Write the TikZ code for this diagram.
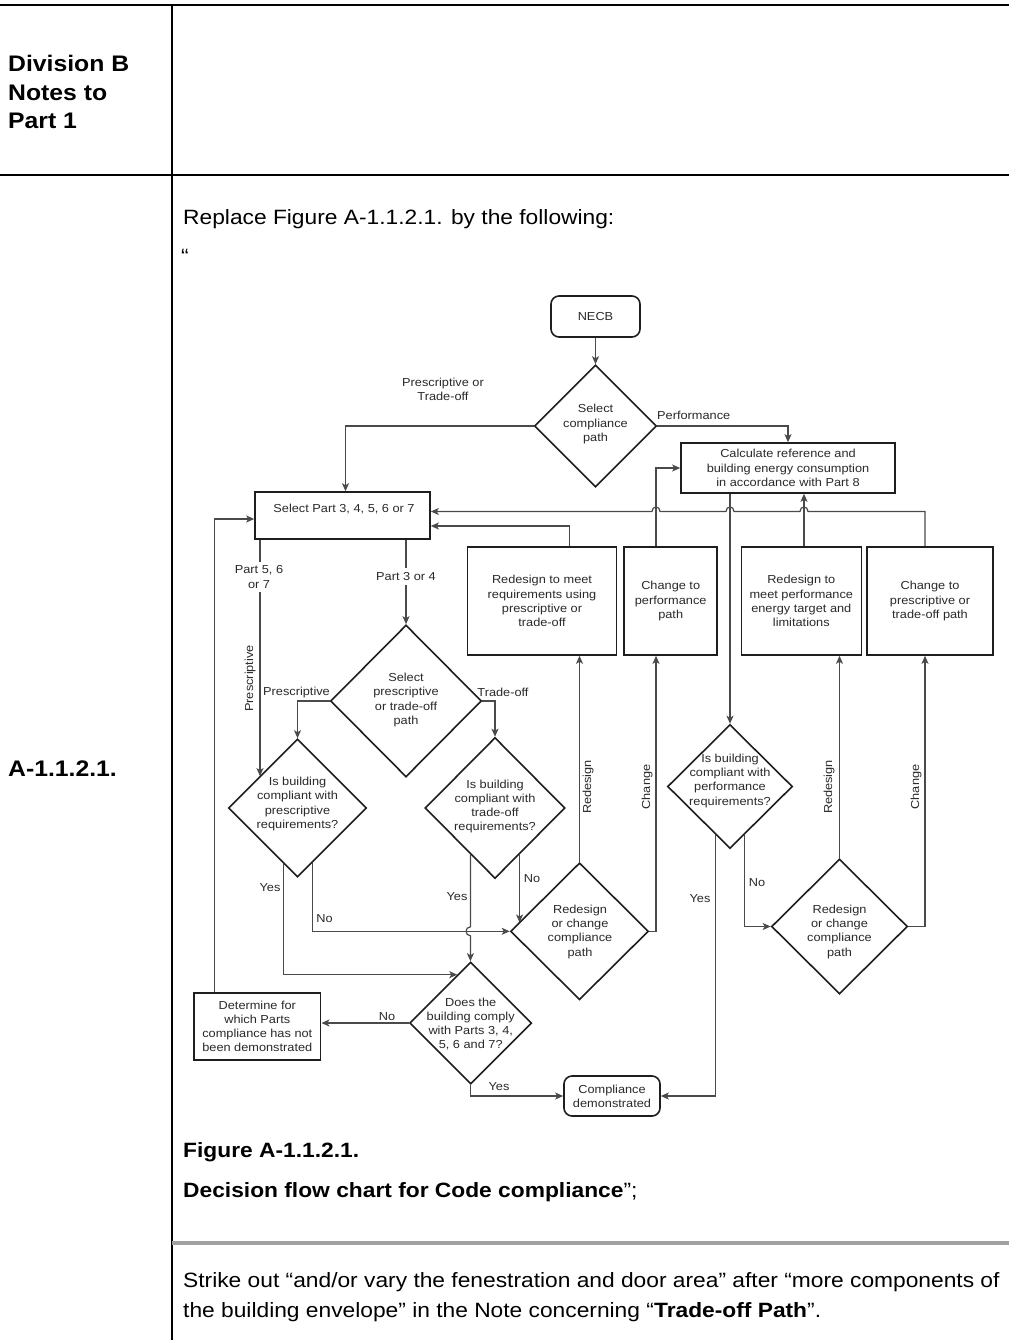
\documentclass[tikz,border=0pt]{standalone}
\usepackage{fontspec}
\setmainfont[FakeStretch=1.1]{Liberation Sans}
\usetikzlibrary{arrows.meta,shapes.geometric,calc,backgrounds}
\definecolor{ink}{HTML}{1E1E1E}
\definecolor{linec}{HTML}{4A4A4A}
\definecolor{txtc}{HTML}{2A2A2A}
\definecolor{sepc}{HTML}{A0A0A0}
\newcommand\fcFont{\fontsize{11.6}{14.2}\selectfont}
\newcommand\fmFont{\fontsize{20.7}{29}\selectfont}
\newcommand\fhFont{\fontsize{22.5}{28.5}\selectfont\bfseries}
\begin{document}
\begin{tikzpicture}[x=1pt,y=-1pt,
  box/.style={draw=ink,line width=1.6pt,fill=white,inner sep=0pt,align=center,font=\fcFont,text=txtc},
  rbox/.style={box,rounded corners=8pt},
  dia/.style={diamond,draw=ink,line width=1.6pt,fill=white,inner sep=0pt},
  dtxt/.style={font=\fcFont,text=txtc,align=center,inner sep=0pt},
  lbl/.style={font=\fcFont,text=txtc,inner sep=0pt,align=center},
  conn/.style={draw=linec,line width=1.2pt},
  arr/.style={conn,-{Stealth[length=8pt,width=7pt,inset=2pt]}},
  ptxt/.style={font=\fmFont,inner sep=0pt,anchor=base west},
  htxt/.style={font=\fhFont,inner sep=0pt,anchor=base west}]
\useasboundingbox (0,0) rectangle (1009,1340);
\begin{pgfonlayer}{background}
\fill[white] (0,0) rectangle (1009,1340);
\end{pgfonlayer}

% page frame
\draw[line width=2.6pt] (0,5) -- (1009,5);
\draw[line width=2.2pt] (0,175) -- (1009,175);
\draw[line width=2pt] (172,5) -- (172,1340);
\draw[sepc,line width=4pt] (172,1243) -- (1009,1243);

% page texts
\node[htxt] (hDiv) at (8,72) {Division B};
\node[htxt] (hNotes) at (8,100.5) {Notes to};
\node[htxt] (hPart) at (8,129) {Part 1};
\node[ptxt] (tRepl) at (183,225) {Replace Figure A-1.1.2.1. by the following:};
\node[ptxt] (tQ) at (181,263) {“};
\node[htxt] (hA) at (8,776) {A-1.1.2.1.};
\node[ptxt,font=\fmFont\bfseries] (tFig) at (183,1157) {Figure A-1.1.2.1.};
\node[ptxt] (tDec) at (183,1197) {\textbf{Decision flow chart for Code compliance}”;};
\node[ptxt] (tS1) at (183,1287) {Strike out “and/or vary the fenestration and door area” after “more components of};
\node[ptxt] (tS2) at (183,1317) {the building envelope” in the Note concerning “\textbf{Trade-off Path}”.};

% flowchart nodes
\node[rbox,minimum width=89pt,minimum height=41pt] (necb) at (595.5,316.5) {NECB};
\node[dia,minimum width=122pt,minimum height=122pt] (sel) at (595.5,426) {};
\node[dtxt] (selT) at (595.5,424) {Select\\compliance\\path};
\node[box,minimum width=214pt,minimum height=50pt] (calc) at (788,468) {Calculate reference and\\building energy consumption\\in accordance with Part 8};
\node[box,minimum width=175pt,minimum height=47pt] (part) at (342.5,515.5) {};
\node[lbl] (partT) at (344,509) {Select Part 3, 4, 5, 6 or 7};
\node[box,minimum width=149pt,minimum height=108pt] (boxA) at (542,601) {Redesign to meet\\requirements using\\prescriptive or\\trade-off};
\node[box,minimum width=93pt,minimum height=108pt] (boxB) at (670.7,601) {Change to\\performance\\path};
\node[box,minimum width=120pt,minimum height=108pt] (boxC) at (801.3,601) {Redesign to\\meet performance\\energy target and\\limitations};
\node[box,minimum width=126pt,minimum height=108pt] (boxD) at (930,601) {Change to\\prescriptive or\\trade-off path};
\node[dia,minimum width=151pt,minimum height=152pt] (sp) at (406,701) {};
\node[dtxt] (spT) at (406,700) {Select\\prescriptive\\or trade-off\\path};
\node[dia,minimum width=138pt,minimum height=138pt] (d1) at (297.5,808) {};
\node[dtxt] (d1T) at (297.5,804) {Is building\\compliant with\\prescriptive\\requirements?};
\node[dia,minimum width=140pt,minimum height=141pt] (d2) at (495,808) {};
\node[dtxt] (d2T) at (495,806.5) {Is building\\compliant with\\trade-off\\requirements?};
\node[dia,minimum width=138pt,minimum height=137pt] (rc1) at (579.5,931.3) {};
\node[dtxt] (rc1T) at (580,931.7) {Redesign\\or change\\compliance\\path};
\node[dia,minimum width=122pt,minimum height=122pt] (does) at (470.7,1023) {};
\node[dtxt] (doesT) at (470.7,1024) {Does the\\building comply\\with Parts 3, 4,\\5, 6 and 7?};
\node[box,minimum width=126.7pt,minimum height=67.3pt] (det) at (257.3,1026.4) {Determine for\\which Parts\\compliance has not\\been demonstrated};
\node[rbox,minimum width=96pt,minimum height=40pt] (comp) at (612,1096) {Compliance\\demonstrated};
\node[dia,minimum width=125pt,minimum height=124pt] (perf) at (730,786.5) {};
\node[dtxt] (perfT) at (730,780.7) {Is building\\compliant with\\performance\\requirements?};
\node[dia,minimum width=136pt,minimum height=135pt] (rc2) at (839.5,926.5) {};
\node[dtxt] (rc2T) at (839.5,931.7) {Redesign\\or change\\compliance\\path};

% connector end points
\coordinate (dTop) at (925,0 |- boxD.north);
\coordinate (aTop) at (569.3,0 |- boxA.north);
\coordinate (bTop) at (656,0 |- boxB.north);
\coordinate (bBot) at (656,0 |- boxB.south);
\coordinate (cBot) at (730,0 |- calc.south);
\coordinate (cTop) at (804,0 |- boxC.north);
\coordinate (dBot) at (925,0 |- boxD.south);
\coordinate (p56) at (260,0 |- part.south);
\coordinate (p34) at (sp.north |- part.south);
\coordinate (detTop) at (214.3,0 |- det.north);
\coordinate (d1in) at ($(d1.west)!0.457!(d1.north)$);
\coordinate (d1y) at ($(d1.south)!0.196!(d1.west)$);
\coordinate (d1n) at ($(d1.south)!0.21!(d1.east)$);
\coordinate (d2y) at ($(d2.south)!0.347!(d2.west)$);
\coordinate (d2n) at ($(d2.south)!0.347!(d2.east)$);
\coordinate (dsin) at ($(does.north)!0.218!(does.west)$);
\coordinate (rc1in) at ($(rc1.west)!0.1275!(rc1.north)$);
\coordinate (pfy) at ($(perf.south)!0.229!(perf.west)$);
\coordinate (pfn) at ($(perf.south)!0.235!(perf.east)$);

\begin{pgfonlayer}{background}
\draw[arr] (necb.south) -- (sel.north);
\draw[arr] (sel.west) -| ([xshift=3pt]part.north);
\draw[arr] (sel.east) -| (calc.north);
\draw[arr] (dTop) -- (925,511.5) -- (808,511.5)
  .. controls (808,505.5) and (800,505.5) .. (800,511.5) -- (734,511.5)
  .. controls (734,505.5) and (726,505.5) .. (726,511.5) -- (660,511.5)
  .. controls (660,505.5) and (652,505.5) .. (652,511.5) -- (part.east |- 0,511.5);
\draw[arr] (aTop) |- (part.east |- 0,526);
\draw[arr] (bTop) |- (calc.west);
\draw[arr] (cBot) -- (perf.north);
\draw[arr] (cTop) -- (cTop |- calc.south);
\draw[arr] (p56) -- (p56 |- d1in);
\draw[arr] (p34) -- (sp.north);
\draw[arr] (sp.west) -| (d1.north);
\draw[arr] (sp.east) -| (d2.north);
\draw[arr] (d1y) |- (dsin);
\draw[arr] (d1n) |- (rc1.west);
\draw[arr] (d2y) -- (d2y |- 0,926.8)
  .. controls (464.7,926.8) and (464.7,935.8) .. (d2y |- 0,935.8) -- (d2y |- does.north);
\draw[arr] (d2n) -- (d2n |- rc1in);
\draw[arr] (rc1.north) -- (rc1.north |- boxA.south);
\draw[arr] (rc1.east) -| (bBot);
\draw[arr] (does.west) -- (does.west -| det.east);
\draw[arr] (does.south) |- (comp.west);
\draw[arr] (detTop) |- (part.west |- 0,519);
\draw[arr] (pfy) |- (comp.east);
\draw[arr] (pfn) |- (rc2.west);
\draw[arr] (rc2.north) -- (rc2.north |- boxC.south);
\draw[arr] (rc2.east) -| (dBot);
\end{pgfonlayer}

% connector labels
\node[lbl] (lPT) at (443,389.5) {Prescriptive or\\Trade-off};
\node[lbl,anchor=west] (lPerf) at (657,415) {Performance};
\node[lbl,fill=white,inner sep=4pt] (l567) at (259,577) {Part 5, 6\\or 7};
\node[lbl,fill=white,inner sep=4pt] (l34) at (406,576.5) {Part 3 or 4};
\node[lbl,rotate=90] (lPr) at (250,678.5) {Prescriptive};
\node[lbl] (lPr2) at (296.5,692) {Prescriptive};
\node[lbl] (lTO) at (503,692) {Trade-off};
\node[lbl] (lY1) at (270,888) {Yes};
\node[lbl] (lN1) at (324.5,919) {No};
\node[lbl] (lY2) at (457,897) {Yes};
\node[lbl] (lN2) at (532,879) {No};
\node[lbl,rotate=90] (lR1) at (588,787) {Redesign};
\node[lbl,rotate=90] (lC1) at (647,787) {Change};
\node[lbl,rotate=90] (lR2) at (829,787) {Redesign};
\node[lbl,rotate=90] (lC2) at (916,787) {Change};
\node[lbl] (lN3) at (387,1017) {No};
\node[lbl] (lY3) at (499,1087) {Yes};
\node[lbl] (lY4) at (700,899) {Yes};
\node[lbl] (lN4) at (757,883) {No};
\end{tikzpicture}
\end{document}
